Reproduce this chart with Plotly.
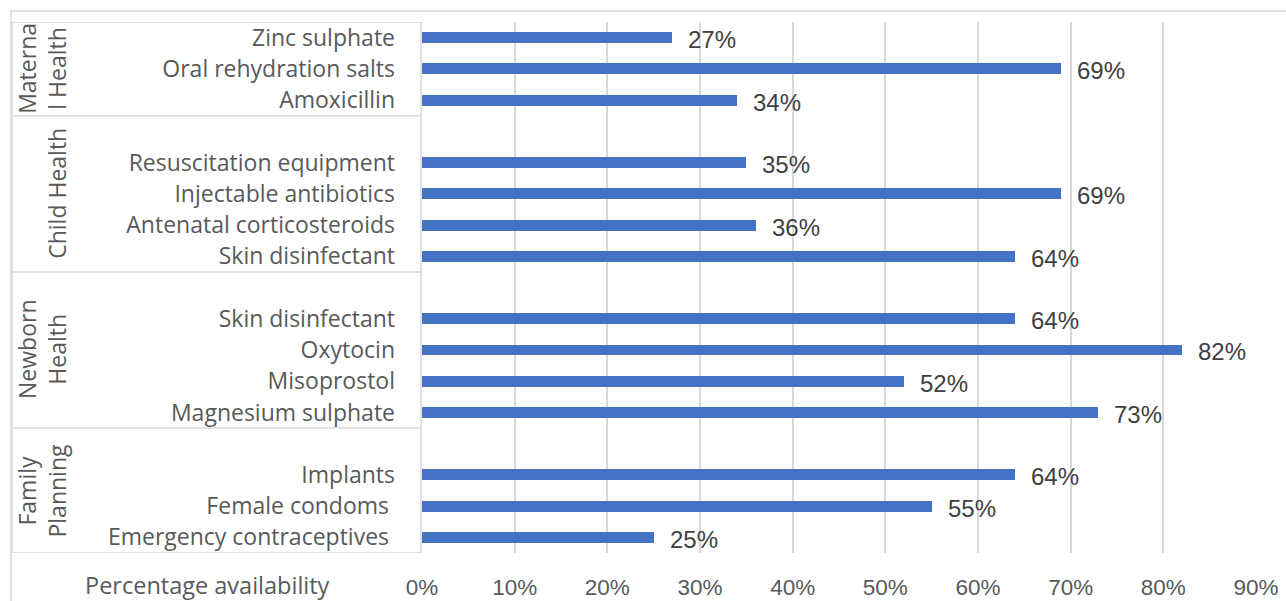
import plotly.graph_objects as go

# Items from top to bottom; None marks the blank spacer row at the start of a group
items = [
    "Zinc sulphate", "Oral rehydration salts", "Amoxicillin",
    None, "Resuscitation equipment", "Injectable antibiotics", "Antenatal corticosteroids", "Skin disinfectant",
    None, "Skin disinfectant", "Oxytocin", "Misoprostol", "Magnesium sulphate",
    None, "Implants", "Female condoms\u00a0", "Emergency contraceptives\u00a0",
]
availability = [
    0.27, 0.69, 0.34,
    None, 0.35, 0.69, 0.36, 0.64,
    None, 0.64, 0.82, 0.52, 0.73,
    None, 0.64, 0.55, 0.25,
]
group_names = ["Materna<br>l Health", "Child Health", "Newborn<br>Health", "Family<br>Planning"]
group_sizes = [3, 5, 5, 4]
x_ticks = [0, 0.1, 0.2, 0.3, 0.4, 0.5, 0.6, 0.7, 0.8, 0.9]

W, H = 1286, 601
L, R, T, B = 422, 30, 22, 48
plot_w = W - L - R
plot_h = H - T - B

BAR = "#4472C4"
GRID = "#d9d9d9"
LABEL = "#595959"
VALUE = "#404040"
SANS = "Open Sans"
ARIAL = "Liberation Sans, Arial"


def px_x(p):
    return (p - L) / plot_w


def px_y(p):
    return (H - B - p) / plot_h


pos = list(range(len(items)))
bar_y = [p for p, v in zip(pos, availability) if v is not None]
bar_x = [v for v in availability if v is not None]

fig = go.Figure()
fig.add_trace(go.Bar(
    x=bar_x, y=bar_y, orientation="h",
    marker=dict(color=BAR, line=dict(width=0)),
    width=0.35, hoverinfo="skip",
))

annotations = []
for y, v in zip(bar_y, bar_x):
    annotations.append(dict(
        x=v, y=y, xref="x", yref="y", text=f"{round(v * 100)}%",
        showarrow=False, xanchor="left", yanchor="middle", xshift=14, yshift=-2,
        font=dict(family=ARIAL, size=24, color=VALUE),
    ))

shapes = []
box_left = px_x(12)
# group box outlines on the category side
start = 0
bounds = [-0.5]
for n in group_sizes:
    start += n
    bounds.append(start - 0.5)
for b in bounds:
    shapes.append(dict(type="line", xref="paper", yref="y", x0=box_left, x1=0, y0=b, y1=b,
                       line=dict(color=GRID, width=1.5)))
for xv in (box_left, px_x(421)):
    shapes.append(dict(type="line", xref="paper", yref="y", x0=xv, x1=xv, y0=bounds[0], y1=bounds[-1],
                       line=dict(color=GRID, width=1.5)))
# chart border (top and left edges)
shapes.append(dict(type="line", xref="paper", yref="paper", x0=px_x(10), x1=px_x(W + 5),
                   y0=px_y(11), y1=px_y(11), line=dict(color=GRID, width=1.5)))
shapes.append(dict(type="line", xref="paper", yref="paper", x0=px_x(11), x1=px_x(11),
                   y0=px_y(11), y1=px_y(H + 5), line=dict(color=GRID, width=1.5)))

# group names, rotated, right edge of the text block kept in one column
for name, b0, b1 in zip(group_names, bounds[:-1], bounds[1:]):
    annotations.append(dict(
        x=px_x(75), y=(b0 + b1) / 2, xref="paper", yref="y", text=name,
        showarrow=False, textangle=-90, xanchor="right", yanchor="middle",
        font=dict(family=SANS, size=23, color=LABEL),
    ))

annotations.append(dict(
    x=px_x(207), y=px_y(585), xref="paper", yref="paper", text="Percentage availability",
    showarrow=False, xanchor="center", yanchor="middle",
    font=dict(family=SANS, size=23.5, color=LABEL),
))

fig.update_layout(
    width=W, height=H,
    margin=dict(l=L, r=R, t=T, b=B, pad=0, autoexpand=False),
    paper_bgcolor="white", plot_bgcolor="white",
    showlegend=False,
    bargap=0,
    xaxis=dict(
        range=[0, 0.9], tickvals=x_ticks, tickformat=".0%",
        showgrid=True, gridcolor=GRID, gridwidth=1.5, zeroline=False,
        showline=False, ticks="", ticklabelstandoff=18, automargin=False,
        tickfont=dict(family=ARIAL, size=22.5, color=LABEL),
    ),
    yaxis=dict(
        range=[len(items) - 0.5, -0.5],
        tickvals=[p for p, n in zip(pos, items) if n is not None],
        ticktext=[n for n in items if n is not None],
        showgrid=False, zeroline=False, showline=False, ticks="",
        ticklabelstandoff=26, automargin=False,
        tickfont=dict(family=SANS, size=23, color=LABEL),
    ),
    shapes=shapes,
    annotations=annotations,
)

fig.write_html("out.html")
